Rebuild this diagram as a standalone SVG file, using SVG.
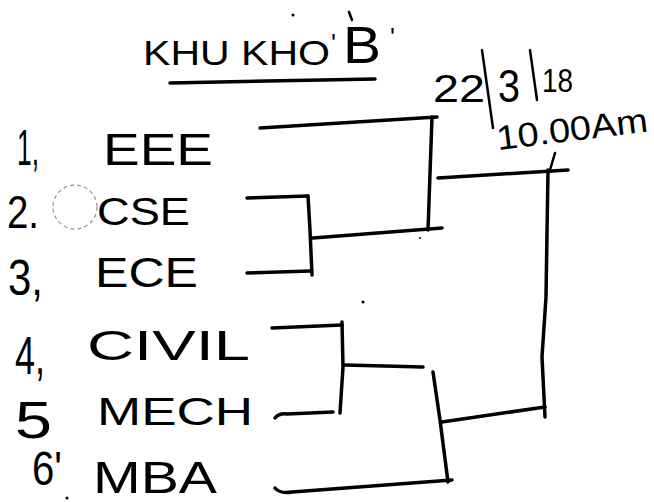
<svg xmlns="http://www.w3.org/2000/svg" width="654" height="502" viewBox="0 0 654 502">
  <style>
    .t { font-family: "Liberation Sans", Arial, sans-serif; fill: #000; }
    .ln { fill: none; stroke: #000; stroke-width: 3.5; stroke-linecap: round; stroke-linejoin: round; }
    .thin { fill: none; stroke: #000; stroke-width: 2.5; stroke-linecap: round; }
    .dot { fill: #000; }
  </style>
  <rect x="0" y="0" width="654" height="502" fill="#fff"/>

  <g id="title">
    <text class="t"><tspan x="143" y="65" font-size="35" textLength="187" lengthAdjust="spacingAndGlyphs">KHU KHO</tspan><tspan x="331" y="52" font-size="26">'</tspan><tspan x="343" y="63" font-size="52" textLength="38" lengthAdjust="spacingAndGlyphs">B</tspan><tspan x="390" y="46" font-size="26">'</tspan></text>
    <path class="thin" d="M349,12 L352,20"/>
    <path class="ln" d="M170,83 L375,79"/>
    <circle class="dot" cx="293" cy="15" r="1.5"/>
  </g>

  <g id="date">
    <text class="t"><tspan x="433" y="102" font-size="38" textLength="52" lengthAdjust="spacingAndGlyphs">22</tspan><tspan x="498" y="102" font-size="46" textLength="22" lengthAdjust="spacingAndGlyphs">3</tspan><tspan x="542" y="92" font-size="34" textLength="31" lengthAdjust="spacingAndGlyphs">18</tspan></text>
    <path class="thin" d="M482,50 L493,128"/>
    <path class="thin" d="M530,50 L537,100"/>
    <text class="t" x="498" y="150" font-size="34" textLength="152" lengthAdjust="spacingAndGlyphs" transform="rotate(-7 498 150)">10.00Am</text>
  </g>

  <g id="team1">
    <text class="t" x="17" y="165" font-size="50" textLength="22" lengthAdjust="spacingAndGlyphs">1,</text>
    <text class="t" x="103" y="165" font-size="44" textLength="110" lengthAdjust="spacingAndGlyphs">EEE</text>
  </g>
  <g id="team2">
    <text class="t" x="7" y="228" font-size="46" textLength="32" lengthAdjust="spacingAndGlyphs">2.</text>
    <circle cx="75" cy="207" r="22" fill="none" stroke="#9a9a9a" stroke-width="1.3" stroke-dasharray="4 3"/>
    <text class="t" x="97" y="225" font-size="38" textLength="93" lengthAdjust="spacingAndGlyphs">CSE</text>
  </g>
  <g id="team3">
    <text class="t" x="8" y="295" font-size="50" textLength="35" lengthAdjust="spacingAndGlyphs">3,</text>
    <text class="t" x="95" y="287" font-size="42" textLength="103" lengthAdjust="spacingAndGlyphs">ECE</text>
  </g>
  <g id="team4">
    <text class="t" x="15" y="374" font-size="54" textLength="30" lengthAdjust="spacingAndGlyphs">4,</text>
    <text class="t" x="87" y="360" font-size="42" textLength="163" lengthAdjust="spacingAndGlyphs">CIVIL</text>
  </g>
  <g id="team5">
    <text class="t" x="15" y="438" font-size="52" textLength="37" lengthAdjust="spacingAndGlyphs">5</text>
    <text class="t" x="97" y="425" font-size="38" textLength="156" lengthAdjust="spacingAndGlyphs">MECH</text>
  </g>
  <g id="team6">
    <text class="t" x="32" y="485" font-size="48" textLength="30" lengthAdjust="spacingAndGlyphs">6'</text>
    <text class="t" x="93" y="493" font-size="44" textLength="124" lengthAdjust="spacingAndGlyphs">MBA</text>
  </g>

  <g id="connectors">
    <path class="ln" d="M260,128 L437,117"/>
    <path class="ln" d="M247,198 L308,196"/>
    <path class="ln" d="M247,273 L311,271"/>
    <path class="ln" d="M308,196 L310,230 L312,275"/>
    <path class="ln" d="M313,238 L442,228"/>
    <path class="ln" d="M432,117 L428,230"/>
    <path class="ln" d="M438,178 L568,170"/>
    <path class="thin" d="M555,153 L550,170"/>
    <path class="ln" d="M272,328 L342,325"/>
    <path class="ln" d="M275,418 Q279,413 287,414 L333,412"/>
    <path class="ln" d="M342,322 L343,367 L340,413"/>
    <path class="ln" d="M345,365 L423,367"/>
    <path class="ln" d="M275,488 Q280,494 292,492 L452,480"/>
    <path class="ln" d="M433,372 L440,420 L448,482"/>
    <path class="ln" d="M442,422 L545,407"/>
    <path class="ln" d="M548,170 L546,297 L542,357 L545,417"/>
  </g>

  <g id="marks">
    <circle class="dot" cx="363" cy="302" r="1.5"/>
    <circle class="dot" cx="420" cy="238" r="1"/>
    <circle class="dot" cx="67" cy="498" r="1.5"/>
  </g>
</svg>
